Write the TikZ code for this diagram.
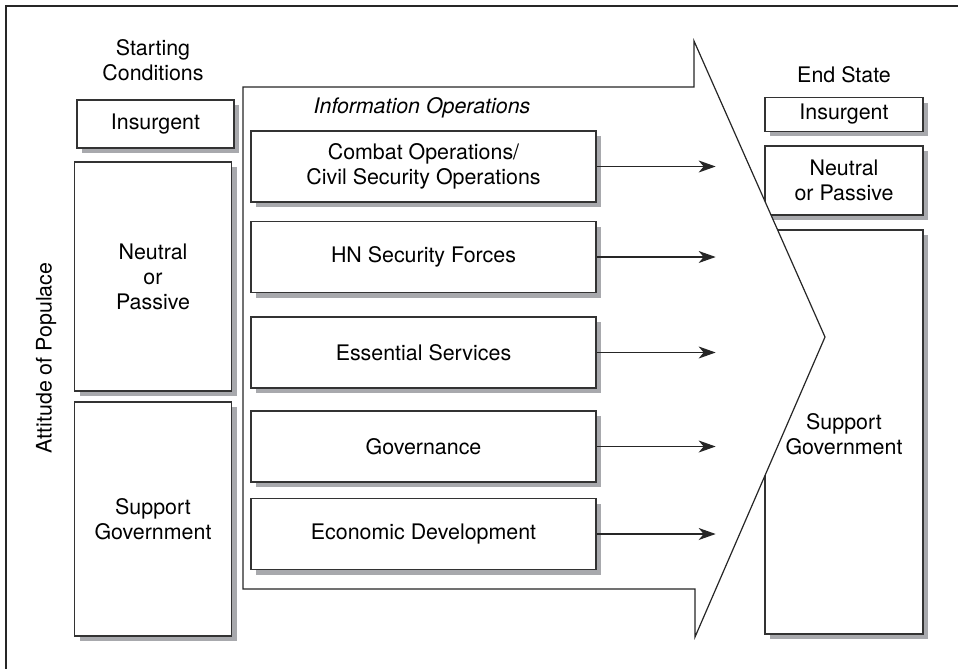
\documentclass[tikz,border=0pt]{standalone}
\usepackage{fontspec}
\setmainfont{TeX Gyre Heros}
\usetikzlibrary{shapes,arrows.meta,positioning,shadows}

\begin{document}
\begin{tikzpicture}[x=0.5pt, y=-0.5pt,
    every node/.style={font=\fontsize{10.7}{12.5}\selectfont, text=black},
    box/.style={draw=black!80, line width=0.65pt, fill=white, align=center,
        drop shadow={shadow xshift=2.5pt, shadow yshift=-2.5pt, fill=shadowgray, opacity=1}},
    flow/.style={-{Stealth[length=8.5pt, width=6pt, inset=2.5pt]}, line width=0.6pt, black!85}]
        \definecolor{shadowgray}{RGB}{168,169,173}

        \useasboundingbox (0,0) rectangle (958,669);

        % Frame (top and left only)
        \draw[line width=1.1pt, black!85] (958,6) -- (6,6) -- (6,669);

        % End state column
        \node at (844,75) (endlabel) {End State};
        \node[box, minimum width=79pt, minimum height=16.5pt] (endins) at (844,114.5) {Insurgent};
        \node[box, minimum width=79pt, minimum height=34.5pt] (endneu) at (844,180.5) {Neutral\\or Passive};
        \node[box, minimum width=79pt, minimum height=202pt] (endsup) at (844,432) {};

        % Big arrow, white fill covers the left of the end state boxes
        \draw[line width=0.6pt, black!85, fill=white] (243,87) -- (694,87) -- (694,41) -- (825,337)
            -- (695,637) -- (695,589) -- (243,589) -- cycle;
        \node[align=center] at (844,434) (suptext) {Support\\Government};

        % Starting conditions column
        \node[align=center] at (153,60) (startlabel) {Starting\\Conditions};
        \node[box, minimum width=78.5pt, minimum height=24pt] (startins) at (155.5,124) {Insurgent};
        \node[box, minimum width=78.5pt, minimum height=114.5pt] (startneu) at (153,276.5) {Neutral\\or\\Passive};
        \node[box, minimum width=78.5pt, minimum height=117pt] (startsup) at (153,519) {Support\\Government};
        \node[rotate=90] at (46,358) (attitude) {Attitude of Populace};

        % Lines of effort
        \node[font=\fontsize{10.7}{12.5}\selectfont\itshape] at (422,108) (info) {Information Operations};
        \node[box, minimum width=172.5pt, minimum height=35.5pt] (combat) at (423.5,166.5) {Combat Operations/\\Civil Security Operations};
        \node[box, minimum width=172.5pt, minimum height=35.5pt] (hnsf) at (423.5,257) {HN Security Forces};
        \node[box, minimum width=172.5pt, minimum height=35.5pt] (essential) at (423.5,352.5) {Essential Services};
        \node[box, minimum width=172.5pt, minimum height=35.5pt] (gov) at (423.5,446.5) {Governance};
        \node[box, minimum width=172.5pt, minimum height=35.5pt] (econ) at (423.5,534) {Economic Development};

        % Arrows toward the end state
        \foreach \n in {combat,hnsf,essential,gov,econ}
            \draw[flow] (\n.east) -- ++(119,0);
    \end{tikzpicture}
\end{document}
